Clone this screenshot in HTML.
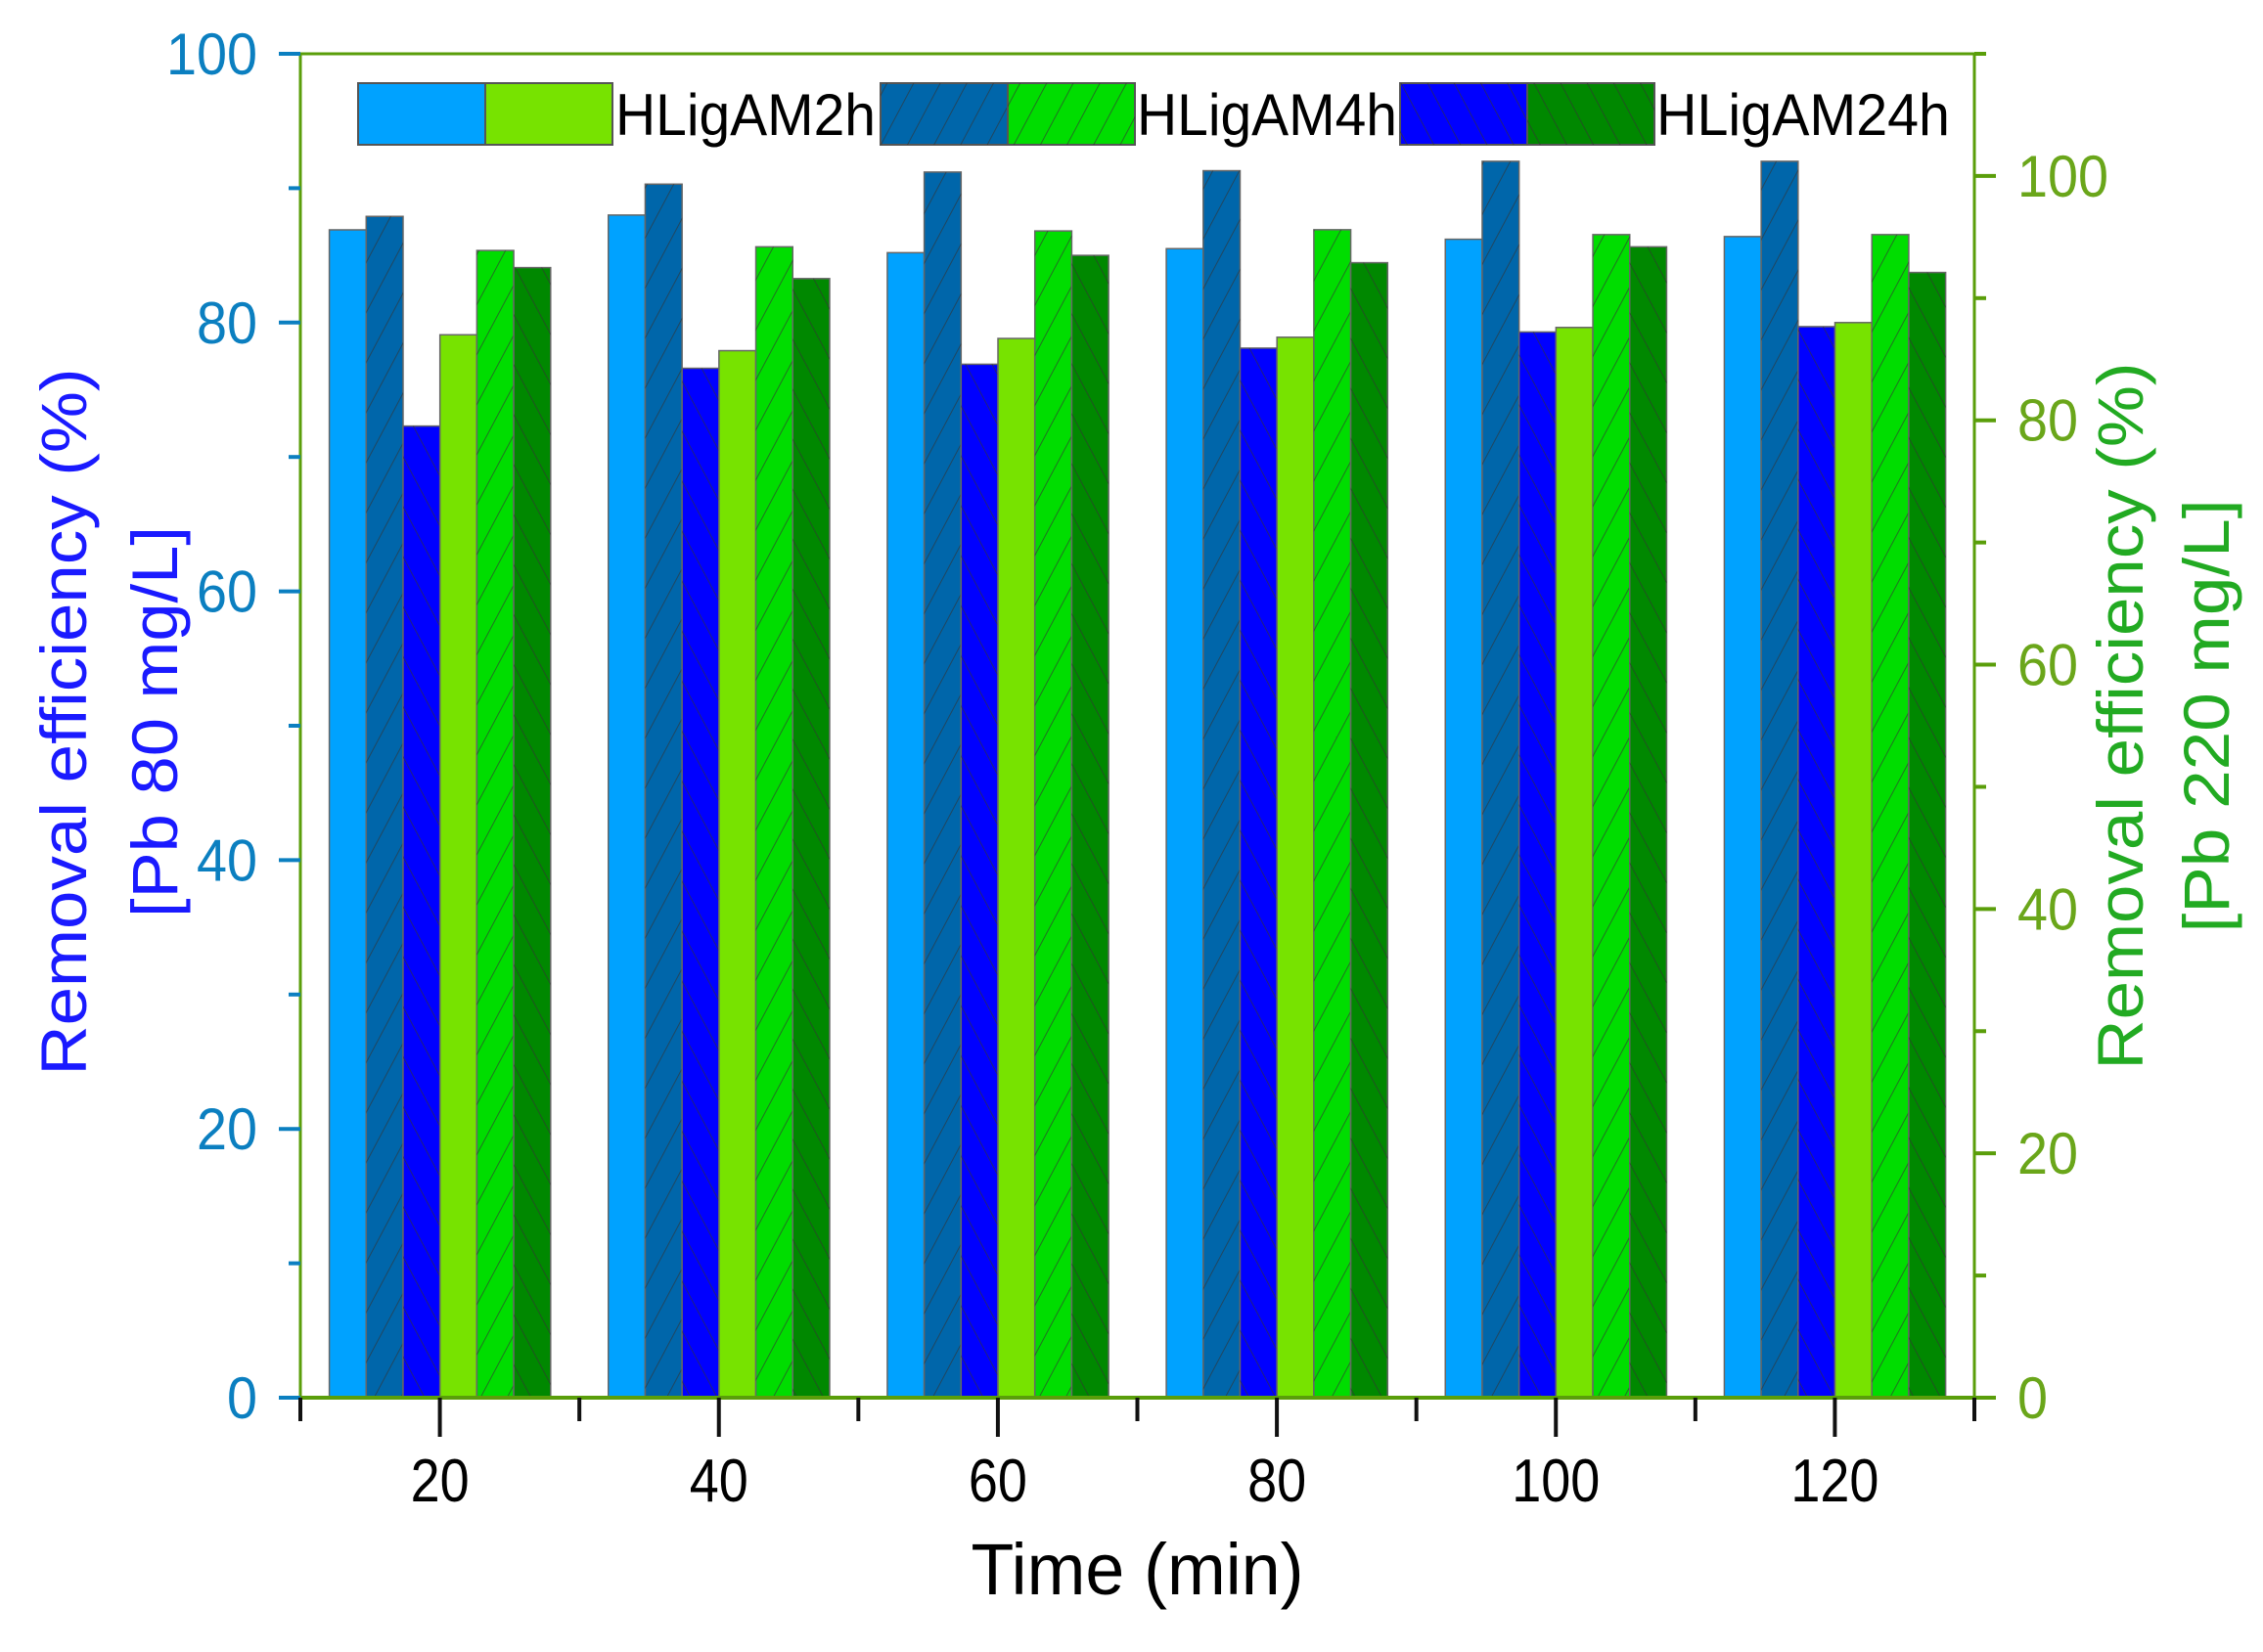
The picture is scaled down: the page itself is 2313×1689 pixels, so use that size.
<!DOCTYPE html>
<html><head><meta charset="utf-8"><style>
html,body{margin:0;padding:0;background:#fff;}
svg{display:block;font-family:"Liberation Sans",Arial,sans-serif;}
</style></head><body>
<svg id="s" width="2313" height="1689" viewBox="0 0 2313 1689" xmlns="http://www.w3.org/2000/svg">
<defs>
<pattern id="hf" width="24" height="24" patternUnits="userSpaceOnUse" patternTransform="rotate(28)"><line x1="0" y1="0" x2="0" y2="24" stroke="#333" stroke-width="1.8" stroke-opacity="0.7"/></pattern>
<pattern id="hb" width="24" height="24" patternUnits="userSpaceOnUse" patternTransform="rotate(-28)"><line x1="0" y1="0" x2="0" y2="24" stroke="#333" stroke-width="1.8" stroke-opacity="0.7"/></pattern>
</defs>
<g id="g"></g>
</svg>
<script>
var L=307,R=2018,T=55,B=1429;
function X(t){return L+(t-10)*(R-L)/120;}
function YL(v){return B-v*(B-T)/100;}
function YR(v){return B-v*(B-T)/110;}
var cols=["#00a2ff","#0066aa","#0000ff","#77e300","#00dd00","#008800"];
var hat=[null,"hf","hb",null,"hf","hb"];
var data={20:[86.9,87.9,72.3,87.0,93.9,92.5],40:[88.0,90.3,76.6,85.7,94.2,91.6],60:[85.2,91.2,76.9,86.7,95.5,93.5],80:[85.5,91.3,78.1,86.8,95.6,92.9],100:[86.2,92.0,79.3,87.6,95.2,94.2],120:[86.4,92.0,79.7,88.0,95.2,92.1]};
var s="";
var bw=37.7;
function tl(str,w){return ' textLength="'+w+'" lengthAdjust="spacingAndGlyphs"';}
for(var t in data){var cx=X(+t);for(var i=0;i<6;i++){var v=data[t][i];var y=i<3?YL(v):YR(v);var x=cx-113+i*bw;
s+='<rect x="'+x+'" y="'+y+'" width="'+bw+'" height="'+(B-y)+'" fill="'+cols[i]+'" stroke="#666" stroke-width="1.5"/>';
if(hat[i])s+='<rect x="'+x+'" y="'+y+'" width="'+bw+'" height="'+(B-y)+'" fill="url(#'+hat[i]+')"/>';}}
s+='<line x1="'+L+'" y1="'+T+'" x2="'+R+'" y2="'+T+'" stroke="#5a9e0a" stroke-width="3"/>';
s+='<line x1="'+L+'" y1="'+T+'" x2="'+L+'" y2="'+B+'" stroke="#5a9e0a" stroke-width="3"/>';
s+='<line x1="'+R+'" y1="'+T+'" x2="'+R+'" y2="'+B+'" stroke="#5a9e0a" stroke-width="3"/>';
s+='<line x1="'+L+'" y1="'+B+'" x2="'+R+'" y2="'+B+'" stroke="#5a9e0a" stroke-width="4"/>';
for(var v=0;v<=100;v+=10){var y=YL(v);var maj=v%20==0;s+='<line x1="'+(L-(maj?22:12))+'" y1="'+y+'" x2="'+L+'" y2="'+y+'" stroke="#0b7fc0" stroke-width="4"/>';
if(maj)s+='<text x="'+(L-44)+'" y="'+(y+21)+'" font-size="60" fill="#0b7fc0" text-anchor="end"'+tl(0,String(v).length*31)+'>'+v+'</text>';}
for(var v=0;v<=110;v+=10){var y=YR(v);var maj=v%20==0;s+='<line x1="'+R+'" y1="'+y+'" x2="'+(R+(maj?22:12))+'" y2="'+y+'" stroke="#5a9e0a" stroke-width="4"/>';
if(maj)s+='<text x="'+(R+44)+'" y="'+(y+21)+'" font-size="60" fill="#6aa61a"'+tl(0,String(v).length*31)+'>'+v+'</text>';}
for(var t=10;t<=130;t+=10){var x=X(t);var maj=(t%20==0);s+='<line x1="'+x+'" y1="'+B+'" x2="'+x+'" y2="'+(B+(maj?40:24))+'" stroke="#111" stroke-width="4"/>';
if(maj)s+='<text x="'+x+'" y="'+(B+106)+'" font-size="62" fill="#000" text-anchor="middle"'+tl(0,String(t).length*30)+'>'+t+'</text>';}
s+='<text x="'+((L+R)/2)+'" y="1630" font-size="74" fill="#000" text-anchor="middle"'+tl(0,340)+'>Time (min)</text>';
s+='<g transform="translate(88,738) rotate(-90)"><text x="0" y="0" font-size="66" fill="#1a1aff" text-anchor="middle"'+tl(0,723)+'>Removal efficiency (%)</text><text x="0" y="93" font-size="66" fill="#1a1aff" text-anchor="middle"'+tl(0,400)+'>[Pb 80 mg/L]</text></g>';
s+='<g transform="translate(2190,732) rotate(-90)"><text x="0" y="0" font-size="66" fill="#22aa22" text-anchor="middle"'+tl(0,723)+'>Removal efficiency (%)</text><text x="0" y="88" font-size="66" fill="#22aa22" text-anchor="middle"'+tl(0,443)+'>[Pb 220 mg/L]</text></g>';
var lg=[[366,0,3,"HLigAM2h",629],[900,1,4,"HLigAM4h",1162],[1431,2,5,"HLigAM24h",1693]];
lg.forEach(function(e){var x=e[0];[e[1],e[2]].forEach(function(k,j){var xx=x+j*130;
s+='<rect x="'+xx+'" y="85" width="130" height="63" fill="'+cols[k]+'" stroke="#555" stroke-width="2"/>';
if(hat[k])s+='<rect x="'+xx+'" y="85" width="130" height="63" fill="url(#'+hat[k]+')"/>';});
s+='<text x="'+e[4]+'" y="138" font-size="60" fill="#000"'+tl(0,e[3].length==8?266:300)+'>'+e[3]+'</text>';});
document.getElementById("g").innerHTML=s;
</script>
</body></html>
